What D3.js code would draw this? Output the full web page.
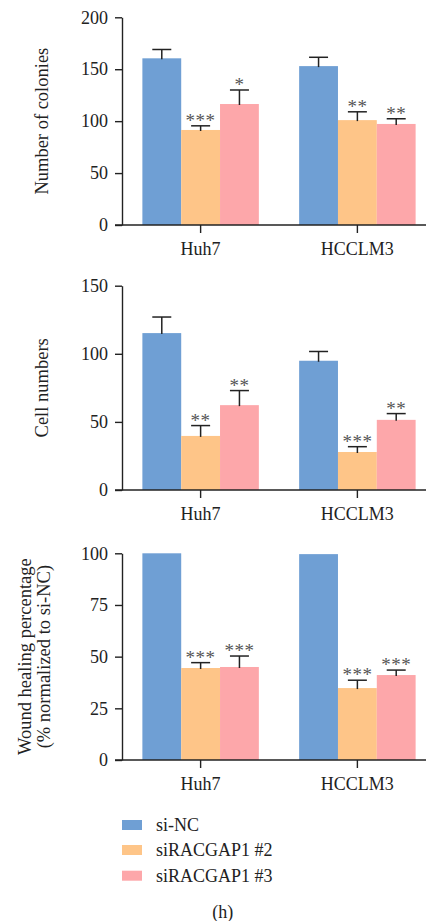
<!DOCTYPE html>
<html><head><meta charset="utf-8">
<script src="https://cdn.jsdelivr.net/npm/d3@7"></script>
<style>
html,body{margin:0;padding:0;background:#fff;}
svg{display:block;}
svg text{font-family:"Liberation Serif","Tinos","Times New Roman","DejaVu Serif",serif !important;}
</style></head>
<body><svg id="c" width="426" height="921"></svg>
<script>
const groups = ["Huh7", "HCCLM3"];
const series = ["si-NC", "siRACGAP1 #2", "siRACGAP1 #3"];
const colors = ["#6f9fd4", "#fec588", "#fda7aa"];

// [series][group]
const coloniesMean = [[160.5, 153], [91.5, 101], [116.5, 97.3]];
const coloniesSD   = [[8.5, 8.5], [4, 8], [13.5, 5]];
const coloniesSig  = [["", ""], ["***", "**"], ["*", "**"]];
const coloniesTicks = [0, 50, 100, 150, 200];

const cellsMean = [[115.2, 94.9], [39.7, 27.9], [62.3, 51.5]];
const cellsSD   = [[11.8, 6.8], [7.6, 3.9], [10.7, 4.6]];
const cellsSig  = [["", ""], ["**", "***"], ["**", "**"]];
const cellsTicks = [0, 50, 100, 150];

const woundMean = [[100, 99.6], [44.5, 34.8], [45, 41.1]];
const woundSD   = [[0, 0], [2.6, 3.8], [5.3, 2.4]];
const woundSig  = [["", ""], ["***", "***"], ["***", "***"]];
const woundTicks = [0, 25, 50, 75, 100];

const svg = d3.select("#c");
const axisX = 122;
const x0 = d3.scaleBand().domain(groups).range([122, 436]).paddingInner(0.257).paddingOuter(0.13);
const x1 = d3.scaleBand().domain(series).range([0, x0.bandwidth()]).padding(0);

const panels = [
  {mean: coloniesMean, sd: coloniesSD, sig: coloniesSig, ticks: coloniesTicks, max: 200, top: 17.3, bottom: 225, title: ["Number of colonies"], titleX: [42]},
  {mean: cellsMean, sd: cellsSD, sig: cellsSig, ticks: cellsTicks, max: 150, top: 285.7, bottom: 490, title: ["Cell numbers"], titleX: [42]},
  {mean: woundMean, sd: woundSD, sig: woundSig, ticks: woundTicks, max: 100, top: 553.3, bottom: 760, title: ["Wound healing percentage", "(% normalized to si-NC)"], titleX: [25, 43.5]}
];

panels.forEach(p => {
  const g = svg.append("g");
  const y = d3.scaleLinear().domain([0, p.max]).range([p.bottom, p.top]);

  series.forEach((s, si) => {
    groups.forEach((gr, gi) => {
      g.append("rect")
        .attr("x", x0(gr) + x1(s))
        .attr("width", x1.bandwidth())
        .attr("y", y(p.mean[si][gi]))
        .attr("height", y(0) - y(p.mean[si][gi]))
        .attr("fill", colors[si]);
    });
  });
  series.forEach((s, si) => {
    groups.forEach((gr, gi) => {
      const cx = x0(gr) + x1(s) + x1.bandwidth() / 2;
      const m = p.mean[si][gi], e = p.sd[si][gi];
      if (e > 0) {
        g.append("line").attr("x1", cx).attr("x2", cx)
          .attr("y1", y(m) + 1).attr("y2", y(m + e))
          .attr("stroke", "#222").attr("stroke-width", 1.5);
        g.append("line").attr("x1", cx - 9.5).attr("x2", cx + 9.5)
          .attr("y1", y(m + e)).attr("y2", y(m + e))
          .attr("stroke", "#222").attr("stroke-width", 1.5);
      }
      if (p.sig[si][gi]) {
        g.append("text").attr("x", cx).attr("y", y(m + e) + 1)
          .attr("text-anchor", "middle").attr("font-size", 19)
          .attr("fill", "#555").attr("letter-spacing", 0.5)
          .text(p.sig[si][gi]);
      }
    });
  });

  const ya = g.append("g").attr("transform", `translate(${axisX},0)`)
    .call(d3.axisLeft(y).tickValues(p.ticks).tickSize(7).tickSizeOuter(0).tickPadding(7));
  ya.attr("font-family", null);
  ya.select(".domain").attr("stroke", "#222").attr("stroke-width", 1.4);
  ya.selectAll(".tick line").attr("stroke", "#222").attr("stroke-width", 1.4);
  ya.selectAll(".tick text").attr("font-size", 18).attr("fill", "#222");

  const xa = g.append("g").attr("transform", `translate(0,${p.bottom})`);
  xa.append("line").attr("x1", axisX - 7).attr("x2", 426).attr("y1", 0).attr("y2", 0)
    .attr("stroke", "#222").attr("stroke-width", 1.4);
  groups.forEach(gr => {
    const cx = x0(gr) + x0.bandwidth() / 2;
    xa.append("line").attr("x1", cx).attr("x2", cx).attr("y1", 0).attr("y2", 8)
      .attr("stroke", "#222").attr("stroke-width", 1.4);
    xa.append("text").attr("x", cx).attr("y", 30).attr("text-anchor", "middle")
      .attr("font-size", 18).attr("fill", "#222").text(gr);
  });

  const cy = (p.top + p.bottom) / 2;
  p.title.forEach((t, i) => {
    g.append("text").attr("transform", `translate(${p.titleX[i]},${cy}) rotate(-90)`)
      .attr("text-anchor", "middle").attr("dominant-baseline", "central")
      .attr("font-size", 18.5).attr("fill", "#222").text(t);
  });
});

const legY = [825, 850, 875.7];
series.forEach((s, i) => {
  svg.append("rect").attr("x", 122).attr("y", legY[i] - 5).attr("width", 20).attr("height", 10).attr("fill", colors[i]);
  svg.append("text").attr("x", 156).attr("y", legY[i]).attr("dominant-baseline", "central")
    .attr("font-size", 18).attr("fill", "#222").text(s);
});
svg.append("text").attr("x", 222.7).attr("y", 911.7).attr("text-anchor", "middle")
  .attr("dominant-baseline", "central").attr("font-size", 18).attr("fill", "#222").text("(h)");
</script></body></html>
